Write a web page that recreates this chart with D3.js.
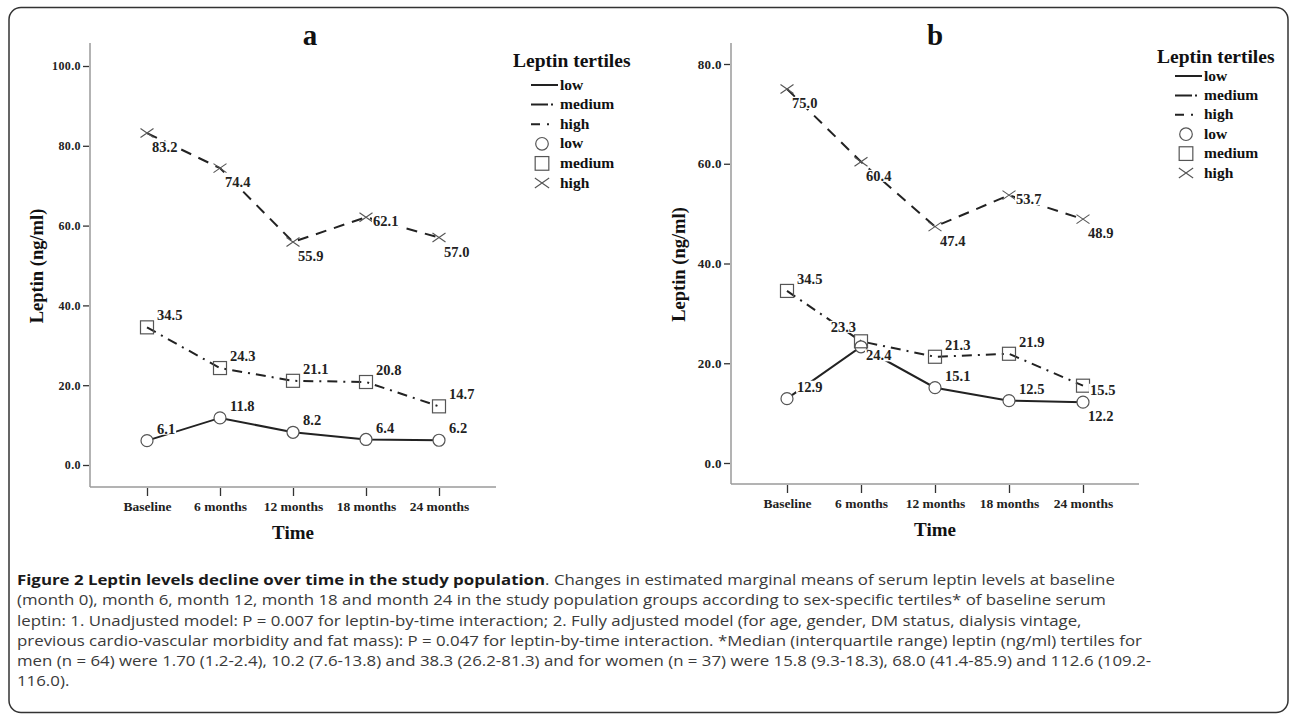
<!DOCTYPE html>
<html><head><meta charset="utf-8">
<script src="https://cdn.jsdelivr.net/npm/d3@7/dist/d3.min.js"></script>
<style>body{margin:0;background:#fff}</style>
</head><body><svg id="c" width="1292" height="715"></svg>
<script>
// ---------- data ----------
const timePoints = ["Baseline", "6 months", "12 months", "18 months", "24 months"];
const seriesNames = ["low", "medium", "high"];
const aLow = [6.1, 11.8, 8.2, 6.4, 6.2];
const aMedium = [34.5, 24.3, 21.1, 20.8, 14.7];
const aHigh = [83.2, 74.4, 55.9, 62.1, 57.0];
const bLow = [12.9, 23.3, 15.1, 12.5, 12.2];
const bMedium = [34.5, 24.4, 21.3, 21.9, 15.5];
const bHigh = [75.0, 60.4, 47.4, 53.7, 48.9];
const aTicks = [0, 20, 40, 60, 80, 100];
const bTicks = [0, 20, 40, 60, 80];
const panelLabels = ["a", "b"];
const legendTitle = "Leptin tertiles";
const yTitle = "Leptin (ng/ml)";
const xTitle = "Time";
const captionTitle = "Figure 2 Leptin levels decline over time in the study population";
const captionLines = [
  ". Changes in estimated marginal means of serum leptin levels at baseline",
  "(month 0), month 6, month 12, month 18 and month 24 in the study population groups according to sex-specific tertiles* of baseline serum",
  "leptin: 1. Unadjusted model: P = 0.007 for leptin-by-time interaction; 2. Fully adjusted model (for age, gender, DM status, dialysis vintage,",
  "previous cardio-vascular morbidity and fat mass): P = 0.047 for leptin-by-time interaction. *Median (interquartile range) leptin (ng/ml) tertiles for",
  "men (n = 64) were 1.70 (1.2-2.4), 10.2 (7.6-13.8) and 38.3 (26.2-81.3) and for women (n = 37) were 15.8 (9.3-18.3), 68.0 (41.4-85.9) and 112.6 (109.2-",
  "116.0)."
];

// ---------- layout / style (not data) ----------
const SERIF = "'Liberation Serif','Times New Roman',serif";
const INK = "#222";
const lineDash = { low: null, medium: "10,6,2,6", high: "11,8" };
const legendDash = { low: null, medium: "17,3,2,20", high: "9,7,2,20" };
const placeA = { low: ["ur","ur","ur","ur","ur"], medium: ["ur","ur","ur","ur","ur"], high: ["lr","lr","lr","r","lr"] };
const placeB = { low: ["ur","ul","ur","ur","lr"], medium: ["ur","lr","ur","ur","r"], high: ["lr","lr","lr","r","lr"] };

const panels = [
  { label: panelLabels[0], data: { low: aLow, medium: aMedium, high: aHigh }, ticks: aTicks, place: placeA,
    xr: [147, 439], axX: [90, 496], yd: [0, 100], yr: [465, 66], axY: [487, 43],
    titleX: 310, yTitleX: 37, legX: 513, legTitleY: 67, legY0: 85, legStep: 19.6, tickFont: 12 },
  { label: panelLabels[1], data: { low: bLow, medium: bMedium, high: bHigh }, ticks: bTicks, place: placeB,
    xr: [787, 1083], axX: [731, 1139], yd: [0, 80], yr: [463, 64], axY: [484, 43],
    titleX: 935, yTitleX: 679, legX: 1157, legTitleY: 63, legY0: 76, legStep: 19.4, tickFont: 13 }
];

const svg = d3.select("#c");

// outer frame
svg.append("rect").attr("x", 9).attr("y", 7.5).attr("width", 1279).attr("height", 705)
  .attr("rx", 12).attr("fill", "none").attr("stroke", "#333").attr("stroke-width", 1.5);

function marker(g, kind, x, y, s) {
  if (kind === "low") {
    g.append("circle").attr("cx", x).attr("cy", y).attr("r", 6 * s)
      .attr("fill", "#fff").attr("stroke", "#555").attr("stroke-width", 1.2);
  } else if (kind === "medium") {
    g.append("rect").attr("x", x - 6.5 * s).attr("y", y - 6.5 * s).attr("width", 13 * s).attr("height", 13 * s)
      .attr("fill", "none").attr("stroke", "#555").attr("stroke-width", 1.2);
  } else {
    const w = 6.5 * s, h = 4.5 * s;
    g.append("path").attr("d", `M${x - w},${y - h}L${x + w},${y + h}M${x - w},${y + h}L${x + w},${y - h}`)
      .attr("stroke", "#555").attr("stroke-width", 1.1).attr("fill", "none");
  }
}

panels.forEach(p => {
  const g = svg.append("g");
  const x = d3.scalePoint().domain(timePoints).range(p.xr);
  const y = d3.scaleLinear().domain(p.yd).range(p.yr);
  const xAxisY = p.axY[0];

  // panel letter
  g.append("text").attr("x", p.titleX).attr("y", 45).attr("text-anchor", "middle")
    .attr("font-family", SERIF).attr("font-weight", "bold").attr("font-size", 29).attr("fill", "#111").text(p.label);

  // axis lines
  g.append("line").attr("x1", p.axX[0]).attr("x2", p.axX[0]).attr("y1", p.axY[1]).attr("y2", p.axY[0])
    .attr("stroke", "#9a9a9a").attr("stroke-width", 1.5);
  g.append("line").attr("x1", p.axX[0]).attr("x2", p.axX[1]).attr("y1", xAxisY).attr("y2", xAxisY)
    .attr("stroke", "#9a9a9a").attr("stroke-width", 1.5);

  // y axis ticks
  const ya = g.append("g").attr("transform", `translate(${p.axX[0] - 1},0)`)
    .call(d3.axisLeft(y).tickValues(p.ticks).tickFormat(d3.format(".1f")).tickSize(6).tickSizeOuter(0).tickPadding(2));
  ya.select(".domain").remove();
  ya.selectAll(".tick line").attr("stroke", "#333").attr("stroke-width", 1.3);
  ya.selectAll(".tick text").attr("font-family", SERIF).attr("font-weight", "bold")
    .attr("font-size", p.tickFont).attr("fill", "#222").attr("letter-spacing", 0.4);

  // x axis ticks
  const xa = g.append("g").attr("transform", `translate(0,${xAxisY + 1})`)
    .call(d3.axisBottom(x).tickSize(8).tickSizeOuter(0).tickPadding(5));
  xa.select(".domain").remove();
  xa.selectAll(".tick line").attr("stroke", "#333").attr("stroke-width", 1.3);
  xa.selectAll(".tick text").attr("font-family", SERIF).attr("font-weight", "bold")
    .attr("font-size", 13.5).attr("fill", "#222");

  // axis titles
  g.append("text").attr("x", (p.axX[0] + p.axX[1]) / 2).attr("y", xAxisY + 52).attr("text-anchor", "middle")
    .attr("font-family", SERIF).attr("font-weight", "bold").attr("font-size", 19).attr("fill", "#111").text(xTitle);
  g.append("text").attr("transform", `translate(${p.yTitleX},${(p.axY[0] + p.axY[1]) / 2 + 1}) rotate(-90)`)
    .attr("text-anchor", "middle").attr("dy", "0.35em")
    .attr("font-family", SERIF).attr("font-weight", "bold").attr("font-size", 18.5).attr("fill", "#111").text(yTitle);

  // lines
  const line = d3.line().x((d, i) => x(timePoints[i])).y(d => y(d));
  seriesNames.forEach(s => {
    g.append("path").datum(p.data[s]).attr("d", line).attr("fill", "none")
      .attr("stroke", INK).attr("stroke-width", 2)
      .attr("stroke-dasharray", lineDash[s]);
  });
  // markers
  seriesNames.forEach(s => {
    p.data[s].forEach((v, i) => marker(g, s, x(timePoints[i]), y(v), 1));
  });
  // value labels with white background
  seriesNames.forEach(s => {
    p.data[s].forEach((v, i) => {
      const px = x(timePoints[i]), py = y(v);
      const pl = p.place[s][i];
      let tx, ty, anchor = "start";
      if (pl === "ur") { tx = px + 10; ty = py - 12; }
      else if (pl === "lr") { tx = px + 5; ty = py + 14; }
      else if (pl === "r") { tx = px + 7; ty = py + 4; }
      else { tx = px - 5; ty = py - 20; anchor = "end"; }
      const t = g.append("text").attr("x", tx).attr("y", ty).attr("dy", "0.35em").attr("text-anchor", anchor)
        .attr("font-family", SERIF).attr("font-weight", "bold").attr("font-size", 14.5).attr("fill", "#222")
        .text(d3.format(".1f")(v));
      const bb = t.node().getBBox();
      g.insert("rect", () => t.node()).attr("x", bb.x - 1).attr("y", bb.y + 2).attr("width", bb.width + 2)
        .attr("height", bb.height - 4).attr("fill", "#fff");
    });
  });

  // legend
  const lg = g.append("g");
  lg.append("text").attr("x", p.legX).attr("y", p.legTitleY).attr("font-family", SERIF).attr("font-weight", "bold")
    .attr("font-size", 19.5).attr("fill", "#111").text(legendTitle);
  const lx = p.legX + 18;
  seriesNames.forEach((s, i) => {
    const ly = p.legY0 + i * p.legStep;
    lg.append("line").attr("x1", lx).attr("x2", lx + 27).attr("y1", ly).attr("y2", ly)
      .attr("stroke", INK).attr("stroke-width", 2).attr("stroke-dasharray", legendDash[s]);
    lg.append("text").attr("x", lx + 29).attr("y", ly).attr("dy", "0.3em").attr("font-family", SERIF)
      .attr("font-weight", "bold").attr("font-size", 15.5).attr("fill", "#111").text(s);
  });
  seriesNames.forEach((s, i) => {
    const ly = p.legY0 + (i + 3) * p.legStep;
    marker(lg, s, lx + 11, ly, s === "high" ? 1.1 : 1.05);
    lg.append("text").attr("x", lx + 29).attr("y", ly).attr("dy", "0.3em").attr("font-family", SERIF)
      .attr("font-weight", "bold").attr("font-size", 15.5).attr("fill", "#111").text(s);
  });
});

// caption (horizontally widened so the narrow line height does not make lines collide)
const CAP_FONT = "'Open Sans','Noto Sans',sans-serif";
const CAP_SIZE = 14.4;
const CAP_SX = 1.17;
const cap = svg.append("g").attr("transform", `translate(17,0) scale(${CAP_SX},1)`);
const first = cap.append("text").attr("x", 0).attr("y", 585).attr("font-family", CAP_FONT).attr("font-size", CAP_SIZE);
first.append("tspan").attr("font-weight", "bold").attr("fill", "#1a1a1a").text(captionTitle);
first.append("tspan").attr("fill", "#3a3a3a").text(captionLines[0]);
captionLines.slice(1).forEach((l, i) => {
  cap.append("text").attr("x", 0).attr("y", 585 + (i + 1) * 20.3).attr("font-family", CAP_FONT)
    .attr("font-size", CAP_SIZE).attr("fill", "#3a3a3a").text(l);
});
</script>
</body></html>
